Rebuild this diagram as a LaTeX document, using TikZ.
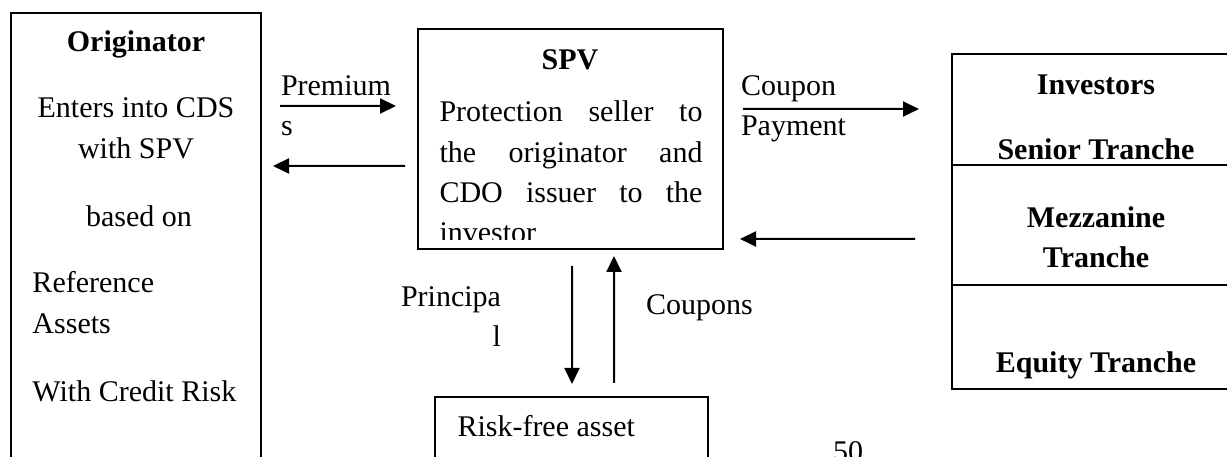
\documentclass[tikz,border=0pt]{standalone}
\usepackage{fontspec}
\setmainfont{Liberation Serif}
\usetikzlibrary{arrows.meta}

\begin{document}
\fontsize{12}{16}\selectfont
\begin{tikzpicture}[x=0.4pt, y=-0.4pt,
  box/.style={draw, line width=0.8pt, inner sep=0pt, outer sep=0pt},
  arr/.style={line width=0.8pt, -{Triangle[length=6.4pt,width=6pt]}},
  txt/.style={inner sep=0pt, anchor=base},
  ltxt/.style={inner sep=0pt, anchor=base west},
  lbl/.style={inner sep=0pt}]
\useasboundingbox (0,0) rectangle (1227,457);
\clip (0,0) rectangle (1227,457);

\node (orig) [box, minimum width=100pt, minimum height=204pt] at (136,268) {};
\node (spv) [box, minimum width=122pt, minimum height=88pt] at (570.5,139) {};
\node (inv) [box, minimum width=115.2pt, minimum height=134pt] at (1096,221.5) {};
\node (risk) [box, minimum width=109.2pt, minimum height=49.2pt] at (571.5,458.5) {};

\node (origTitle) [txt, font=\bfseries] at (136,52) {Originator};
\node (origA) [txt] at (136,118) {Enters into CDS};
\node (origB) [txt] at (136,159) {with SPV};
\node (origC) [txt] at (139,227) {based on};
\node (origD) [ltxt] at (32,293) {Reference};
\node (origE) [ltxt] at (32,334) {Assets};
\node (origF) [ltxt] at (32,402) {With Credit Risk};

\node (spvTitle) [txt, font=\bfseries] at (570,70) {SPV};
\begin{scope}
\clip (418,29) rectangle (723,240);
\node (spvA) [ltxt] at (439,122) {\makebox[105.2pt][s]{Protection seller to}};
\node (spvB) [ltxt] at (439,163) {\makebox[105.2pt][s]{the originator and}};
\node (spvC) [ltxt] at (439,203) {\makebox[105.2pt][s]{CDO issuer to the}};
\node (spvD) [ltxt] at (439,243) {investor};
\end{scope}

\node (invTitle) [txt, font=\bfseries] at (1096,95) {Investors};
\node (senior) [txt, font=\bfseries] at (1096,160) {Senior Tranche};
\node (mezzA) [txt, font=\bfseries] at (1096,228) {Mezzanine};
\node (mezzB) [txt, font=\bfseries] at (1096,268) {Tranche};
\node (equity) [txt, font=\bfseries] at (1096,373) {Equity Tranche};
\draw[line width=0.8pt] ([shift={(0,111)}]inv.north west) -- ([shift={(0,111)}]inv.north east);
\draw[line width=0.8pt] ([shift={(0,231)}]inv.north west) -- ([shift={(0,231)}]inv.north east);

\node (riskText) [ltxt] at (457,437) {Risk-free asset};
\node (pageNo) [txt] at (848,462) {50};

\draw[arr] ([shift={(19,93)}]orig.north east) -- node (premLbl) [lbl, pos=0, anchor=west, align=left] {Premium\\s} ([shift={(-22,77)}]spv.north west);
\draw[arr] ([shift={(-13,137)}]spv.north west) -- ([shift={(12,153)}]orig.north east);
\draw[arr] ([shift={(20,80)}]spv.north east) -- node (cpnLbl) [lbl, pos=0, anchor=west, xshift=-1.2pt, align=left] {Coupon\\Payment} ([shift={(-33,55)}]inv.north west);
\draw[arr] ([shift={(-37,185)}]inv.north west) -- ([shift={(17,210)}]spv.north east);
\draw[arr] ([shift={(154,17)}]spv.south west) -- node (prinLbl) [lbl, pos=0.43, anchor=east, xshift=-28pt, align=right] {Principa\\l} ([shift={(137,-13)}]risk.north west);
\draw[arr] ([shift={(179,-14)}]risk.north west) -- node (cpsLbl) [lbl, pos=0.59, anchor=west, xshift=12.4pt] {Coupons} ([shift={(196,7)}]spv.south west);
\end{tikzpicture}
\end{document}
